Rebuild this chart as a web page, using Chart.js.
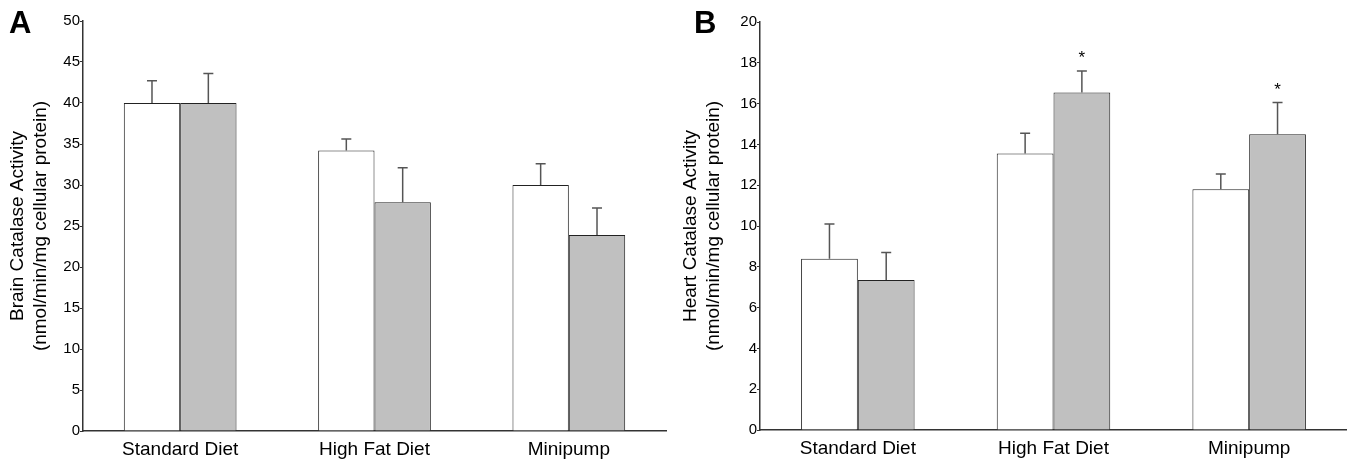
<!DOCTYPE html>
<html>
<head>
<meta charset="utf-8">
<script src="https://cdn.jsdelivr.net/npm/chart.js@4.4.0/dist/chart.umd.min.js"></script>
<style>
  html, body { margin: 0; padding: 0; background: #fff; }
  .wrap { position: relative; width: 1347px; height: 460px; }
  .panel { position: absolute; top: 0; height: 460px; }
  #boxA { left: 0; width: 680px; }
  #boxB { left: 680px; width: 667px; }
  .letter { position: absolute; font: bold 31px "Liberation Sans", Arial, sans-serif; color: #000; }
</style>
</head>
<body>
<div class="wrap">
  <div class="panel" id="boxA"><canvas id="chartA"></canvas></div>
  <div class="panel" id="boxB"><canvas id="chartB"></canvas></div>
  <div class="letter" style="left:9px; top:5px;">A</div>
  <div class="letter" style="left:694px; top:5px;">B</div>
</div>
<script>
// --- Data ---
const categories = ['Standard Diet', 'High Fat Diet', 'Minipump'];

const brainControl = [40.0, 34.2, 30.0];
const brainControlErr = [2.7, 1.4, 2.6];
const brainTreated = [40.0, 27.9, 23.9];
const brainTreatedErr = [3.6, 4.2, 3.3];

const heartControl = [8.4, 13.55, 11.8];
const heartControlErr = [1.7, 1.0, 0.75];
const heartTreated = [7.35, 16.55, 14.5];
const heartTreatedErr = [1.35, 1.05, 1.55];
const heartTreatedSig = [false, true, true];

const brainTicks = { min: 0, max: 50, step: 5 };
const heartTicks = { min: 0, max: 20, step: 2 };

const FONT = '"Liberation Sans", Arial, sans-serif';

// draws the upward-only error bars (and significance stars) from the dataset's err arrays
const errorBarPlugin = {
  id: 'errorBars',
  afterDatasetsDraw(chart) {
    const ctx = chart.ctx;
    const yScale = chart.scales.y;
    chart.data.datasets.forEach((ds, i) => {
      const meta = chart.getDatasetMeta(i);
      meta.data.forEach((bar, j) => {
        const top = ds.data[j] + ds.err[j];
        const yTop = yScale.getPixelForValue(top);
        const yBar = yScale.getPixelForValue(ds.data[j]);
        ctx.save();
        ctx.strokeStyle = '#555';
        ctx.lineWidth = 1.5;
        ctx.beginPath();
        ctx.moveTo(bar.x, yBar);
        ctx.lineTo(bar.x, yTop);
        ctx.moveTo(bar.x - 5, yTop);
        ctx.lineTo(bar.x + 5, yTop);
        ctx.stroke();
        if (ds.sig && ds.sig[j]) {
          ctx.fillStyle = '#000';
          ctx.font = '17px ' + FONT;
          ctx.textAlign = 'center';
          ctx.textBaseline = 'bottom';
          ctx.fillText('*', bar.x, yTop - 4);
        }
        ctx.restore();
      });
    });
  }
};

const makeChart = (id, control, controlErr, treated, treatedErr, sig, ticks, title, pad) => {
  return new Chart(document.getElementById(id), {
    type: 'bar',
    data: {
      labels: categories,
      datasets: [
        {
          label: 'Control',
          data: control,
          err: controlErr,
          backgroundColor: '#ffffff',
          borderColor: '#222',
          borderWidth: 1,
          borderSkipped: 'bottom'
        },
        {
          label: 'Treated',
          data: treated,
          err: treatedErr,
          sig: sig,
          backgroundColor: '#c0c0c0',
          borderColor: '#222',
          borderWidth: 1,
          borderSkipped: 'bottom'
        }
      ]
    },
    options: {
      responsive: true,
      maintainAspectRatio: false,
      animation: false,
      categoryPercentage: 0.58,
      barPercentage: 1.0,
      layout: { padding: pad },
      plugins: { legend: { display: false }, tooltip: { enabled: false } },
      scales: {
        x: {
          grid: { display: false, drawTicks: false },
          border: { color: '#333', width: 1.5 },
          ticks: { color: '#000', font: { family: FONT, size: 19 }, padding: 7 },
          afterFit: (s) => { s.height = 29; }
        },
        y: {
          min: ticks.min,
          max: ticks.max,
          ticks: { stepSize: ticks.step, color: '#000', font: { family: FONT, size: 15 }, padding: 0 },
          grid: { drawOnChartArea: false, drawTicks: true, tickLength: 3, color: '#333' },
          border: { color: '#333', width: 1.5 },
          title: {
            display: true,
            text: title,
            color: '#000',
            font: { family: FONT, size: 19, lineHeight: 1.17 },
            padding: { top: pad.tp, bottom: 2 }
          },
          afterFit: (s) => { s.width = pad.yw; }
        }
      }
    },
    plugins: [errorBarPlugin]
  });
};

makeChart('chartA', brainControl, brainControlErr, brainTreated, brainTreatedErr, null, brainTicks,
  ['Brain Catalase Activity', '(nmol/min/mg cellular protein)'],
  { top: 21, right: 14, bottom: 0, left: 0, yw: 83, tp: 7 });

makeChart('chartB', heartControl, heartControlErr, heartTreated, heartTreatedErr, heartTreatedSig, heartTicks,
  ['Heart Catalase Activity', '(nmol/min/mg cellular protein)'],
  { top: 22, right: 0, bottom: 1, left: 0, yw: 80, tp: 0 });
</script>
</body>
</html>
